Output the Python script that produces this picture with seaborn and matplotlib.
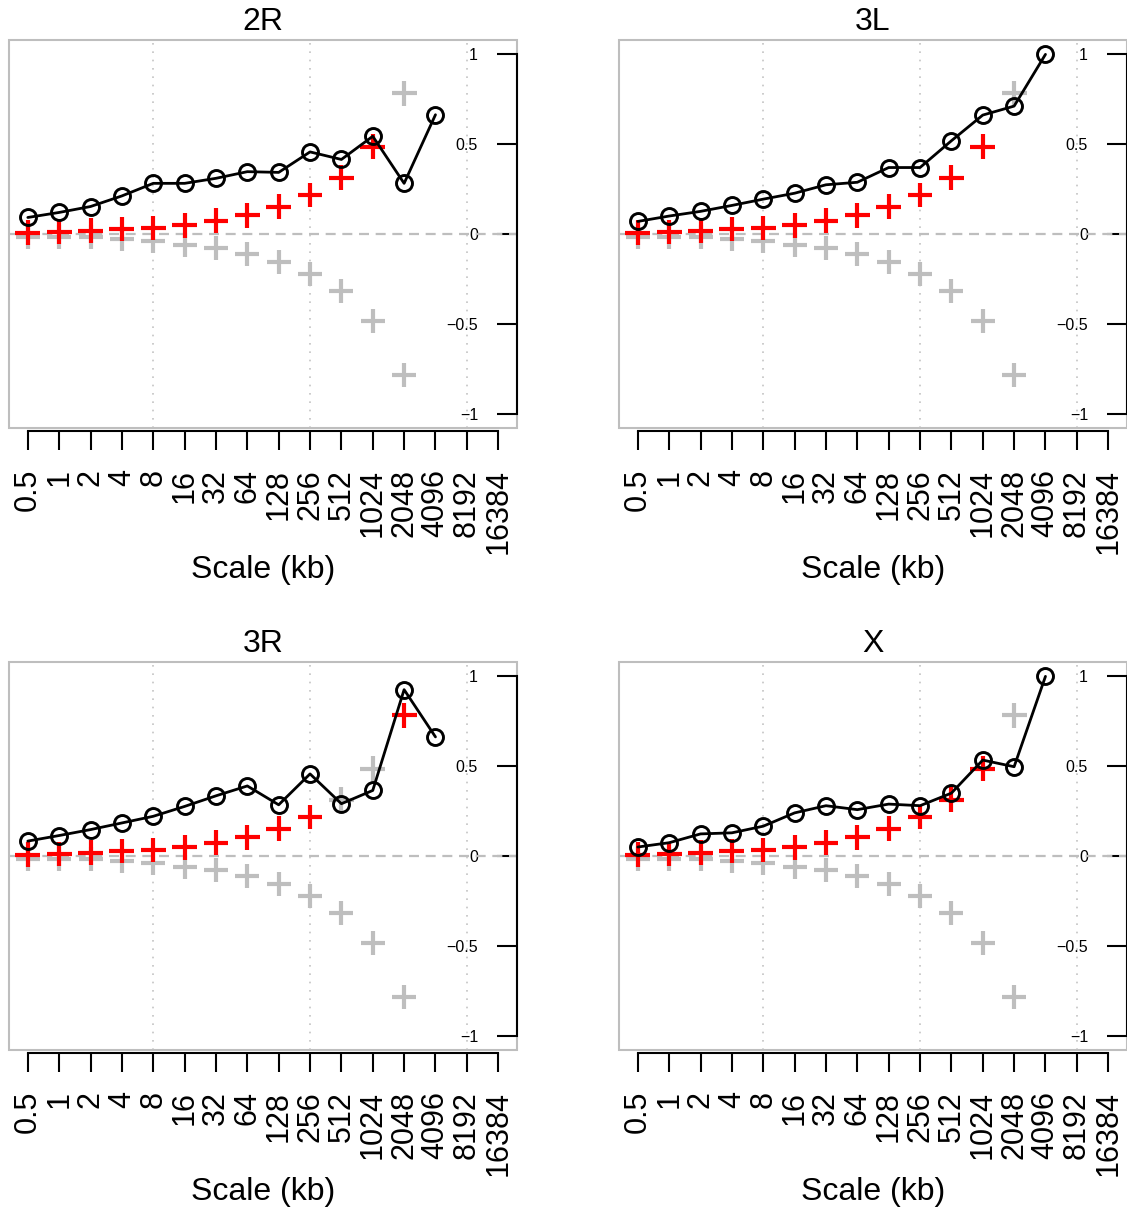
import numpy as np
import pandas as pd
import matplotlib
matplotlib.use("Agg")
import matplotlib.pyplot as plt
import seaborn as sns
from matplotlib.patches import Rectangle
from matplotlib.ticker import FixedLocator, FixedFormatter, NullLocator

# Wavelet scales (kb) and their axis labels
scale_kb = [0.5, 1, 2, 4, 8, 16, 32, 64, 128, 256, 512, 1024, 2048, 4096, 8192, 16384]
scale_labels = ["0.5", "1", "2", "4", "8", "16", "32", "64", "128", "256",
                "512", "1024", "2048", "4096", "8192", "16384"]

# Observed correlation per scale for each chromosome arm
chrom_names = ["2R", "3L", "3R", "X"]
obs_2R = [0.092, 0.12, 0.153, 0.212, 0.282, 0.282, 0.31, 0.347, 0.343, 0.457,
          0.415, 0.544, 0.282, 0.664]
obs_3L = [0.07, 0.10, 0.126, 0.159, 0.194, 0.227, 0.274, 0.288, 0.37, 0.37,
          0.519, 0.662, 0.712, 1.0]
obs_3R = [0.083, 0.114, 0.147, 0.184, 0.221, 0.276, 0.335, 0.39, 0.285, 0.457,
          0.291, 0.365, 0.926, 0.663]
obs_X = [0.05, 0.074, 0.123, 0.129, 0.166, 0.24, 0.28, 0.258, 0.289, 0.28,
         0.35, 0.534, 0.497, 1.0]
observed = [obs_2R, obs_3L, obs_3R, obs_X]

# Null-distribution bounds per scale (0.5 kb .. 2048 kb)
upper_bound = [0.006, 0.011, 0.018, 0.028, 0.033, 0.048, 0.074, 0.105, 0.153,
               0.217, 0.313, 0.485, 0.783]
lower_bound = [-0.015, -0.016, -0.018, -0.026, -0.037, -0.06, -0.077, -0.109,
               -0.155, -0.22, -0.32, -0.483, -0.787]

GREY = "#bebebe"
RED = "#ff0000"

sns.set_style("white")
plt.rcParams["font.family"] = ["Liberation Sans", "DejaVu Sans"]
plt.rcParams["text.color"] = "black"
plt.rcParams["axes.labelcolor"] = "black"

W, H = 1127, 1208
fig = plt.figure(figsize=(W / 100, H / 100), dpi=100)

# panel boxes in pixels: (left, top)
box_w, box_h = 508, 388
panel_origin = [(9, 40), (619, 40), (9, 662), (619, 662)]

for name, obs, (px, py) in zip(chrom_names, observed, panel_origin):
    ax = fig.add_axes([px / W, 1 - (py + box_h) / H, box_w / W, box_h / H])
    ax.set_facecolor("white")

    n_obs = len(obs)
    n_b = len(upper_bound)
    df_obs = pd.DataFrame({"scale": scale_kb[:n_obs], "value": obs})
    df_b = pd.DataFrame({
        "scale": scale_kb[:n_b],
        "upper": upper_bound,
        "lower": lower_bound,
        "signif": [o > u for o, u in zip(obs[:n_b], upper_bound)],
    })

    # reference lines
    ax.axhline(0, color=GREY, lw=1.6, ls=(0, (4.5, 3)), zorder=1)
    for v in [8, 256, 8192]:
        ax.axvline(v, color="#c4c4c4", lw=1.2, ls=(0, (1, 4)), zorder=1)

    # lower bound crosses
    sns.scatterplot(data=df_b, x="scale", y="lower", marker="+", s=320,
                    color=GREY, linewidth=3.0, ax=ax, zorder=2, legend=False)
    # upper bound crosses, red where observed exceeds the bound
    sns.scatterplot(data=df_b, x="scale", y="upper", hue="signif",
                    palette={True: RED, False: GREY}, marker="+", s=320,
                    linewidth=3.0, ax=ax, zorder=3, legend=False)
    # observed values
    sns.lineplot(data=df_obs, x="scale", y="value", color="black", lw=2.0,
                 marker="o", markersize=11.5, markerfacecolor="none",
                 markeredgecolor="black", markeredgewidth=2.1,
                 estimator=None, sort=False, ax=ax, zorder=4)

    ax.set_xscale("log", base=2)
    ax.set_xlim(2 ** -1.6, 2 ** 14.6)
    ax.set_ylim(-1.08, 1.08)

    ax.xaxis.set_major_locator(FixedLocator(scale_kb))
    ax.xaxis.set_major_formatter(FixedFormatter(scale_labels))
    ax.xaxis.set_minor_locator(NullLocator())
    ax.yaxis.set_major_locator(FixedLocator([-1, -0.5, 0, 0.5, 1]))
    ax.yaxis.set_major_formatter(FixedFormatter(["\u22121", "\u22120.5", "0", "0.5", "1"]))
    ax.yaxis.set_minor_locator(NullLocator())

    for side in ["left", "top"]:
        ax.spines[side].set_visible(False)
    ax.spines["right"].set_color("black")
    ax.spines["right"].set_linewidth(1.5)
    ax.spines["right"].set_bounds(-1, 1)
    ax.spines["right"].set_zorder(6)
    ax.spines["bottom"].set_color("black")
    ax.spines["bottom"].set_linewidth(1.5)
    ax.spines["bottom"].set_bounds(0.5, 16384)
    ax.spines["bottom"].set_position(("outward", 2.2))

    ax.add_patch(Rectangle((0, 0), 1, 1, transform=ax.transAxes, fill=False,
                           edgecolor=GREY, lw=1.5, clip_on=False, zorder=5))

    ax.tick_params(axis="x", which="major", bottom=True, top=False,
                   direction="out", length=13.7, width=1.5, pad=13.5,
                   labelsize=22, labelrotation=90, colors="black")
    ax.tick_params(axis="y", which="major", left=False, labelleft=False,
                   right=True, labelright=True, direction="in", length=14.4,
                   width=1.5, pad=-28, labelsize=11.5, colors="black")
    for lab in ax.get_yticklabels():
        lab.set_horizontalalignment("right")

    ax.set_ylabel("")
    ax.set_title(name, fontsize=23, pad=7, color="black")
    ax.set_xlabel("Scale (kb)", fontsize=23, color="black")
    ax.xaxis.set_label_coords(0.5, -150 / box_h)
    ax.xaxis.label.set_va("baseline")

fig.savefig("out.png", dpi=100, facecolor="white")
